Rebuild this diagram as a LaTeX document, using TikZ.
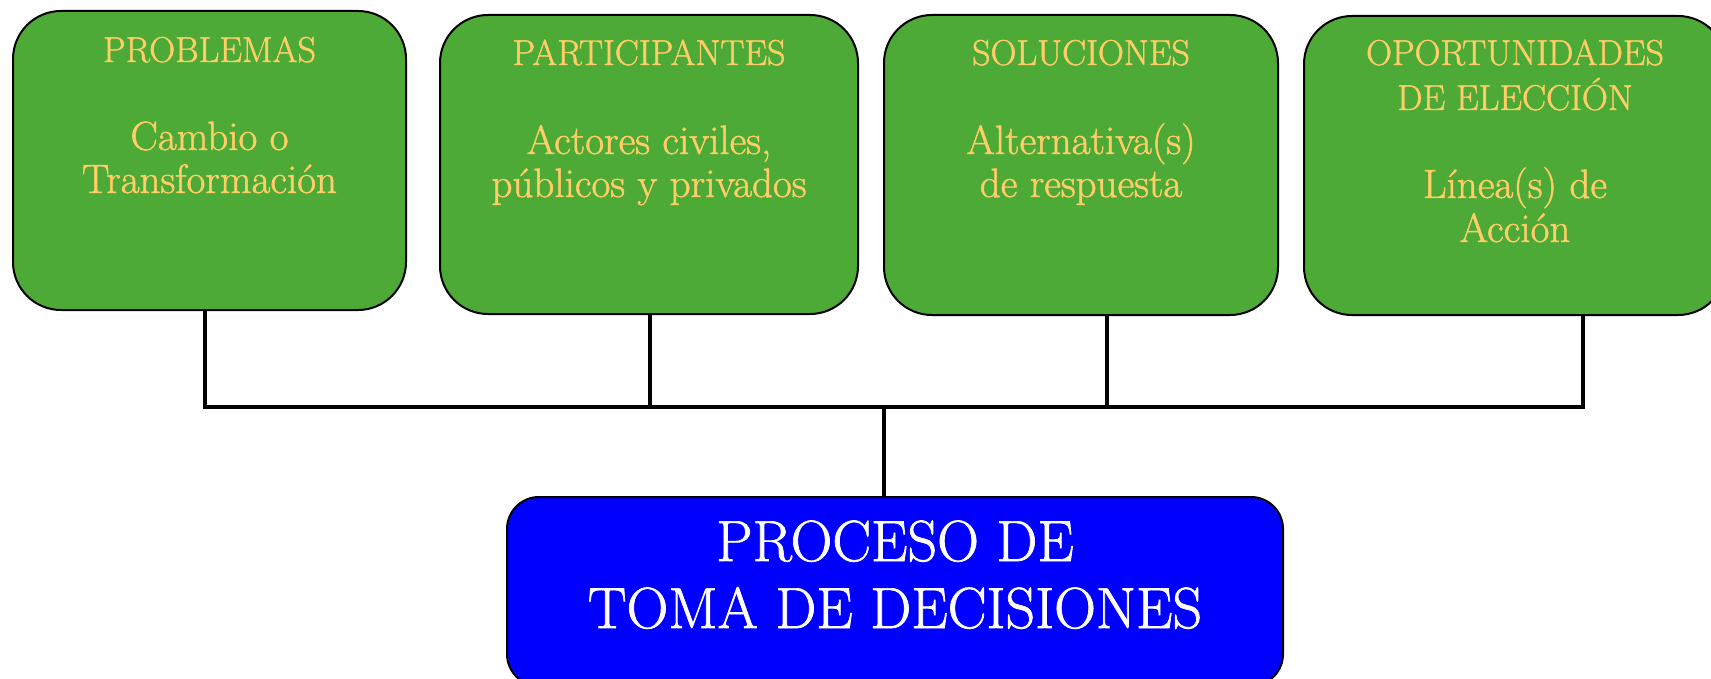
\documentclass[tikz,border=0pt]{standalone}
\usepackage{fontspec}
\newfontfamily\heavyrm[FakeBold=1.2]{Latin Modern Roman}
\definecolor{boxgreen}{RGB}{78,170,55}
\definecolor{txtyellow}{RGB}{255,206,102}
\definecolor{boxblue}{RGB}{0,0,255}
\begin{document}
\begin{tikzpicture}[x=0.5pt,y=-0.5pt,
 gbox/.style={draw=black, line width=1pt, fill=boxgreen, rounded corners=24pt, inner sep=0pt},
 bbox/.style={draw=black, line width=1pt, fill=boxblue, rounded corners=16pt, inner sep=0pt},
 ttl/.style={anchor=base, text=txtyellow, inner sep=0pt, font=\heavyrm\fontsize{18}{22}\selectfont},
 sub/.style={anchor=base, text=txtyellow, inner sep=0pt, font=\heavyrm\fontsize{20.5}{22}\selectfont},
 big/.style={anchor=base, text=white, inner sep=0pt, font=\heavyrm\fontsize{29}{33}\selectfont},
 conn/.style={line width=2.4pt}]
\clip (0,0) rectangle (1711,679);
% boxes
\node[gbox, minimum width=196.5pt, minimum height=149.5pt] (b1) at (209.5,160.5) {};
\node[gbox, minimum width=209pt, minimum height=149.5pt] (b2) at (649,164.5) {};
\node[gbox, minimum width=197pt, minimum height=150pt] (b3) at (1081,165) {};
\node[gbox, minimum width=211pt, minimum height=149.5pt] (b4) at (1515,165.5) {};
\node[bbox, minimum width=388pt, minimum height=94.5pt] (b5) at (895,591.5) {};
% texts
\node[ttl] (t1a) at (209.5,62) {PROBLEMAS};
\node[sub] (t1b) at (209.5,150) {Cambio o};
\node[sub] (t1c) at (209.5,193) {Transformación};
\node[ttl] (t2a) at (649,65) {PARTICIPANTES};
\node[sub] (t2b) at (649,154) {Actores civiles,};
\node[sub] (t2c) at (649,197) {públicos y privados};
\node[ttl] (t3a) at (1081,65) {SOLUCIONES};
\node[sub] (t3b) at (1081,154) {Alternativa(s)};
\node[sub] (t3c) at (1081,197) {de respuesta};
\node[ttl] (t4a) at (1515,65) {OPORTUNIDADES};
\node[ttl] (t4b) at (1515,110) {DE ELECCIÓN};
\node[sub] (t4c) at (1515,198) {Línea(s) de};
\node[sub] (t4d) at (1515,242) {Acción};
\node[big] (t5a) at (895,561) {PROCESO DE};
\node[big] (t5b) at (895,628) {TOMA DE DECISIONES};
% connectors
\coordinate (c1) at (205,407);
\coordinate (c2) at (650,407);
\coordinate (c3) at (1107,407);
\coordinate (c4) at (1583,407);
\coordinate (m) at (884,407);
\draw[conn] (b1.south -| c1) -- (c1);
\draw[conn] (b2.south -| c2) -- (c2);
\draw[conn] (b3.south -| c3) -- (c3);
\draw[conn] (b4.south -| c4) -- (c4);
\draw[conn, line cap=rect] (c1) -- (c4);
\draw[conn] (m) -- (b5.north -| m);
\end{tikzpicture}
\end{document}
